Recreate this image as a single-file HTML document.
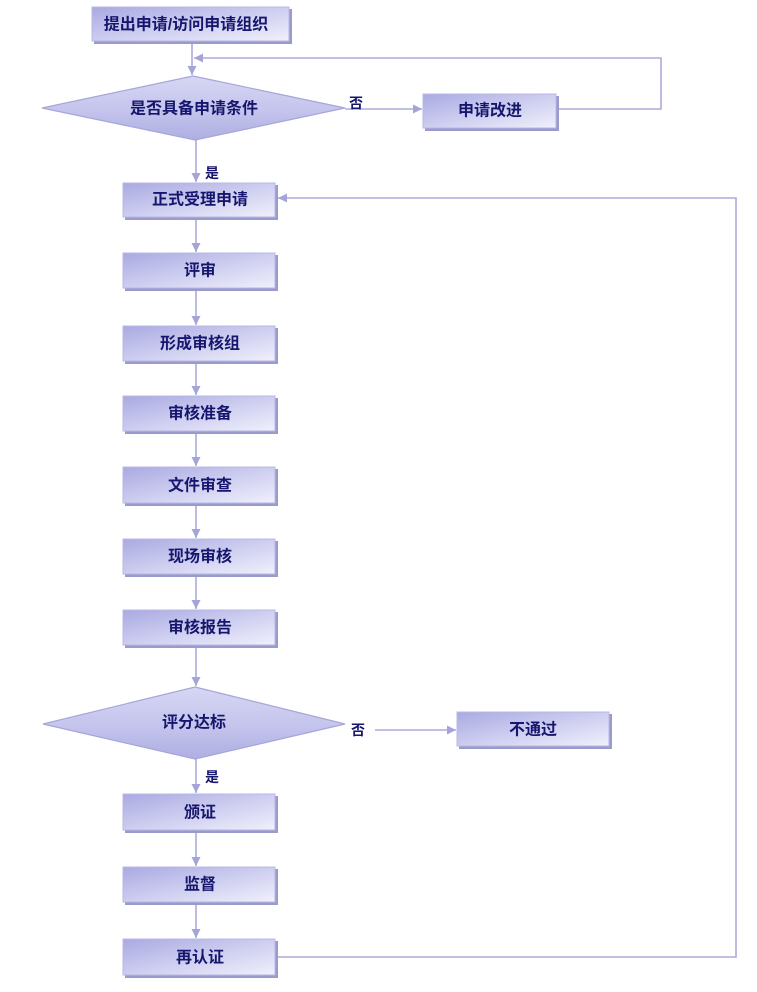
<!DOCTYPE html>
<html><head><meta charset="utf-8">
<style>
html,body{margin:0;padding:0;background:#fff;}
svg{display:block;}
text{font-family:"Liberation Sans","Noto Sans CJK SC","WenQuanYi Zen Hei",sans-serif;font-weight:bold;fill:#16166e;}
</style></head>
<body>
<svg width="757" height="992" viewBox="0 0 757 992" xmlns="http://www.w3.org/2000/svg">
<defs>
<linearGradient id="bx" x1="0" y1="0" x2="1" y2="1">
<stop offset="0" stop-color="#a9a9e2"/>
<stop offset="0.5" stop-color="#cdcdf0"/>
<stop offset="1" stop-color="#f0f0fc"/>
</linearGradient>
<linearGradient id="dm" x1="0" y1="0" x2="0" y2="1">
<stop offset="0" stop-color="#d6d6f4"/>
<stop offset="0.5" stop-color="#c6c6ee"/>
<stop offset="1" stop-color="#aeaee2"/>
</linearGradient>
<marker id="ar" viewBox="0 0 10 10" refX="10" refY="5" markerWidth="9" markerHeight="9" markerUnits="userSpaceOnUse" orient="auto">
<path d="M0,0 L10,5 L0,10 z" fill="#a4a4d8"/>
</marker>
<g id="box">
</g>
</defs>

<g fill="none" stroke="#ababdc" stroke-width="1.6">
<!-- top -->
<line x1="192" y1="43" x2="192" y2="75" marker-end="url(#ar)"/>
<polyline points="558,109 661,109 661,58 194,58" marker-end="url(#ar)"/>
<line x1="345" y1="109" x2="422" y2="109" marker-end="url(#ar)"/>
<line x1="196" y1="140" x2="196" y2="182" marker-end="url(#ar)"/>
<polyline points="277,957 736,957 736,198 278,198" marker-end="url(#ar)"/>
<!-- column -->
<line x1="196" y1="219" x2="196" y2="252" marker-end="url(#ar)"/>
<line x1="196" y1="290" x2="196" y2="325" marker-end="url(#ar)"/>
<line x1="196" y1="363" x2="196" y2="395" marker-end="url(#ar)"/>
<line x1="196" y1="433" x2="196" y2="466" marker-end="url(#ar)"/>
<line x1="196" y1="505" x2="196" y2="538" marker-end="url(#ar)"/>
<line x1="196" y1="576" x2="196" y2="609" marker-end="url(#ar)"/>
<line x1="196" y1="647" x2="196" y2="686" marker-end="url(#ar)"/>
<line x1="196" y1="759" x2="196" y2="793" marker-end="url(#ar)"/>
<line x1="196" y1="833" x2="196" y2="866" marker-end="url(#ar)"/>
<line x1="196" y1="904" x2="196" y2="938" marker-end="url(#ar)"/>
<line x1="375" y1="730" x2="456" y2="730" marker-end="url(#ar)"/>
</g>

<!-- diamonds -->
<polygon points="193,76 345,108 195,140 42,108" fill="url(#dm)" stroke="#a6a6da" stroke-width="1.2"/>
<polygon points="195,687 345,724 195,759 43,724" fill="url(#dm)" stroke="#a6a6da" stroke-width="1.2"/>

<!-- boxes: shadow + body -->
<g>
<rect x="94" y="9" width="198" height="35" fill="#9a9acc"/>
<rect x="92" y="7" width="197" height="34" fill="url(#bx)" stroke="#b8b8e4" stroke-width="1"/>

<rect x="425" y="96" width="134" height="35" fill="#9a9acc"/>
<rect x="423" y="94" width="133" height="34" fill="url(#bx)" stroke="#b8b8e4" stroke-width="1"/>

<rect x="459" y="714" width="153" height="35" fill="#9a9acc"/>
<rect x="457" y="712" width="152" height="34" fill="url(#bx)" stroke="#b8b8e4" stroke-width="1"/>
</g>
<g>
<rect x="125" y="185" width="153" height="35" fill="#9a9acc"/>
<rect x="123" y="183" width="152" height="34" fill="url(#bx)" stroke="#b8b8e4"/>
<rect x="125" y="255" width="153" height="36" fill="#9a9acc"/>
<rect x="123" y="253" width="152" height="35" fill="url(#bx)" stroke="#b8b8e4"/>
<rect x="125" y="328" width="153" height="36" fill="#9a9acc"/>
<rect x="123" y="326" width="152" height="35" fill="url(#bx)" stroke="#b8b8e4"/>
<rect x="125" y="398" width="153" height="36" fill="#9a9acc"/>
<rect x="123" y="396" width="152" height="35" fill="url(#bx)" stroke="#b8b8e4"/>
<rect x="125" y="469" width="153" height="37" fill="#9a9acc"/>
<rect x="123" y="467" width="152" height="36" fill="url(#bx)" stroke="#b8b8e4"/>
<rect x="125" y="541" width="153" height="36" fill="#9a9acc"/>
<rect x="123" y="539" width="152" height="35" fill="url(#bx)" stroke="#b8b8e4"/>
<rect x="125" y="612" width="153" height="36" fill="#9a9acc"/>
<rect x="123" y="610" width="152" height="35" fill="url(#bx)" stroke="#b8b8e4"/>
<rect x="125" y="796" width="153" height="37" fill="#9a9acc"/>
<rect x="123" y="794" width="152" height="36" fill="url(#bx)" stroke="#b8b8e4"/>
<rect x="125" y="869" width="153" height="36" fill="#9a9acc"/>
<rect x="123" y="867" width="152" height="35" fill="url(#bx)" stroke="#b8b8e4"/>
<rect x="125" y="941" width="153" height="37" fill="#9a9acc"/>
<rect x="123" y="939" width="152" height="36" fill="url(#bx)" stroke="#b8b8e4"/>
</g>

<!-- text -->
<g font-size="16" text-anchor="middle" dominant-baseline="central">
<text x="186" y="25">提出申请/访问申请组织</text>
<text x="194" y="109">是否具备申请条件</text>
<text x="490" y="111">申请改进</text>
<text x="200" y="200">正式受理申请</text>
<text x="200" y="271">评审</text>
<text x="200" y="344">形成审核组</text>
<text x="200" y="414">审核准备</text>
<text x="200" y="486">文件审查</text>
<text x="200" y="557">现场审核</text>
<text x="200" y="628">审核报告</text>
<text x="194" y="723">评分达标</text>
<text x="533" y="730">不通过</text>
<text x="200" y="813">颁证</text>
<text x="200" y="885">监督</text>
<text x="200" y="958">再认证</text>
</g>
<g font-size="14" dominant-baseline="central">
<text x="349" y="103">否</text>
<text x="205" y="173">是</text>
<text x="351" y="730">否</text>
<text x="205" y="777">是</text>
</g>
</svg>
</body></html>
